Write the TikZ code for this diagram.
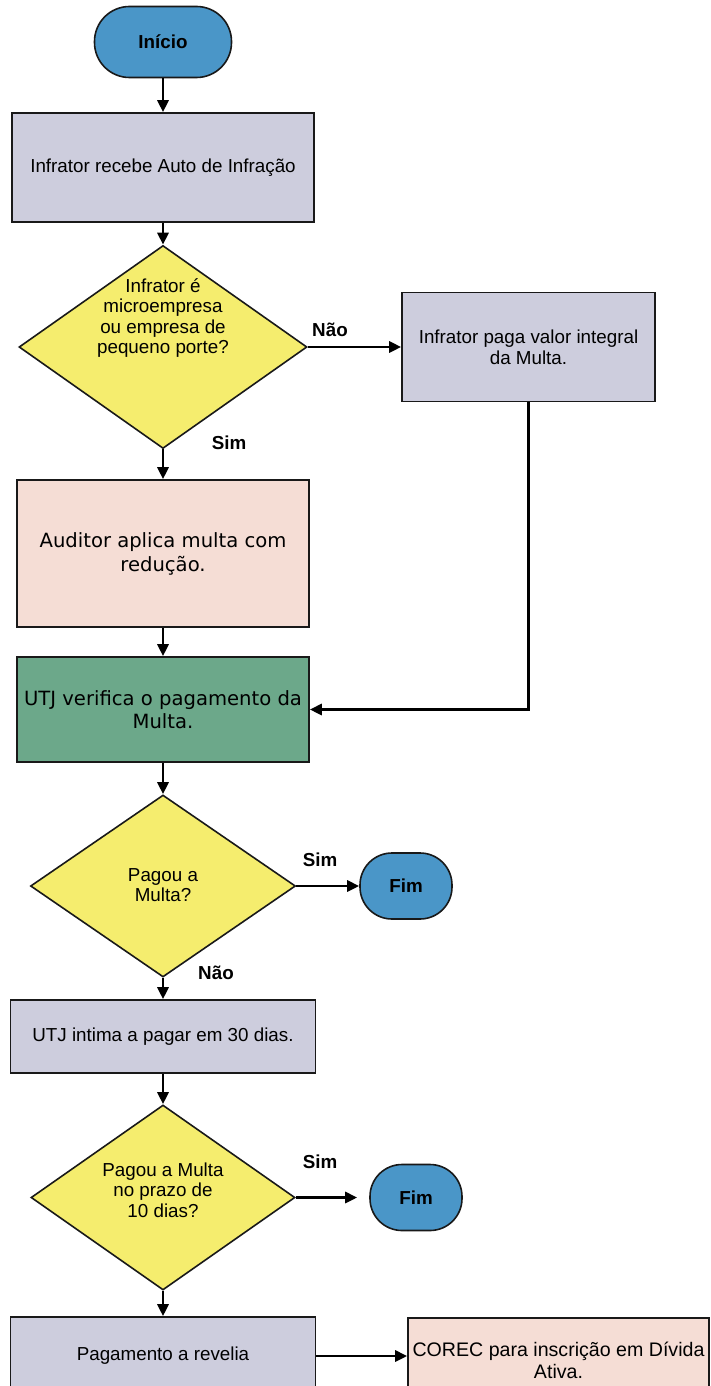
\documentclass[tikz,border=0pt]{standalone}
\usepackage{fontspec}
\setmainfont{Liberation Sans}
\newfontfamily\tahoma{DejaVu Sans}
\usetikzlibrary{shapes.geometric,arrows.meta}
\definecolor{termblue}{RGB}{74,150,200}
\definecolor{boxgrey}{RGB}{205,205,221}
\definecolor{decyellow}{RGB}{245,237,110}
\definecolor{boxpink}{RGB}{245,221,213}
\definecolor{boxgreen}{RGB}{108,168,138}
\begin{document}
\begin{tikzpicture}[x=0.5pt,y=-0.5pt,
  base/.style={draw=black!90, line width=0.8pt, inner sep=0pt, align=center, font=\fontsize{9.4}{10.4}\selectfont},
  term/.style={base, fill=termblue, font=\bfseries\fontsize{9.4}{10.4}\selectfont},
  proc/.style={base, rectangle, fill=boxgrey},
  pinkbox/.style={base, rectangle, fill=boxpink, font=\tahoma\fontsize{9.8}{12}\selectfont},
  corecbox/.style={base, rectangle, fill=boxpink, font=\fontsize{9.8}{11}\selectfont},
  greenbox/.style={base, rectangle, fill=boxgreen, font=\tahoma\fontsize{9.8}{11.7}\selectfont},
  dec/.style={base, diamond, fill=decyellow},
  txt/.style={inner sep=0pt, align=center, font=\fontsize{9.4}{10.2}\selectfont},
  lab/.style={inner sep=0pt, font=\bfseries\fontsize{9.4}{10.4}\selectfont},
  arr/.style={line width=1.4pt, -{Triangle[length=6pt,width=5.5pt]}}
]
\useasboundingbox (0,0) rectangle (711,1386);
\clip (0,0) rectangle (711,1386);
\fill[white] (0,0) rectangle (711,1386);

\node[term, minimum width=68.5pt, minimum height=35.5pt, rounded corners=17.5pt] (inicio) at (163,42) {Início};
\node[proc, minimum width=151pt, minimum height=54.5pt] (b1) at (163,167.5) {Infrator recebe Auto de Infração};
\node[dec, minimum width=144pt, minimum height=101.5pt] (d1) at (163,347) {};
\node[txt] (d1t) at (163,318) {Infrator é\\microempresa\\ou empresa de\\pequeno porte?};
\node[proc, minimum width=126.5pt, minimum height=54.5pt, font=\fontsize{9.4}{10.6}\selectfont] (b2) at (528.5,347) {Infrator paga valor integral\\da Multa.};
\node[pinkbox, minimum width=146pt, minimum height=73.5pt] (b3) at (163,553.5) {Auditor aplica multa com\\redução.};
\node[greenbox, minimum width=146pt, minimum height=52.5pt] (b4) at (163,709.5) {UTJ verifica o pagamento da\\Multa.};
\node[dec, minimum width=132.5pt, minimum height=91pt] (d2) at (163,886) {};
\node[txt] (d2t) at (163,885) {Pagou a\\Multa?};
\node[term, minimum width=46pt, minimum height=33pt, rounded corners=16pt] (fim1) at (406,886) {Fim};
\node[proc, minimum width=152.5pt, minimum height=36.5pt] (b5) at (163,1036.5) {UTJ intima a pagar em 30 dias.};
\node[dec, minimum width=132pt, minimum height=92.5pt] (d3) at (163,1197.5) {};
\node[txt] (d3t) at (163,1190) {Pagou a Multa\\no prazo de\\10 dias?};
\node[term, minimum width=46pt, minimum height=33pt, rounded corners=16pt] (fim2) at (416,1197.5) {Fim};
\node[proc, minimum width=152.5pt, minimum height=39pt] (b6) at (163,1356) {Pagamento a revelia};
\node[corecbox, minimum width=150.5pt, minimum height=42pt] (b7) at (558.5,1360) {COREC para inscrição em Dívida\\Ativa.};

\node[lab] (nao1) at (330,330) {Não};
\node[lab] (sim1) at (229,443) {Sim};
\node[lab] (sim2) at (320,860) {Sim};
\node[lab] (nao2) at (216,973) {Não};
\node[lab] (sim3) at (320,1162) {Sim};

\draw[arr] (inicio) -- (b1);
\draw[arr] (b1) -- (d1);
\draw[arr] (d1.east) -- (b2.west);
\draw[arr] (d1.south) -- (b3.north);
\draw[arr] (b3) -- (b4);
\draw[arr] (b2.south) |- (b4.east);
\draw[arr] (b4) -- (d2);
\draw[arr] (d2.east) -- (fim1.west);
\draw[arr] (d2.south) -- (b5.north);
\draw[arr] (b5) -- (d3);
\draw[arr, shorten >=6pt] (d3.east) -- (fim2.west);
\draw[arr] (d3.south) -- (b6.north);
\draw[arr] (b6.east) -- (b6.east -| b7.west);
\end{tikzpicture}
\end{document}
